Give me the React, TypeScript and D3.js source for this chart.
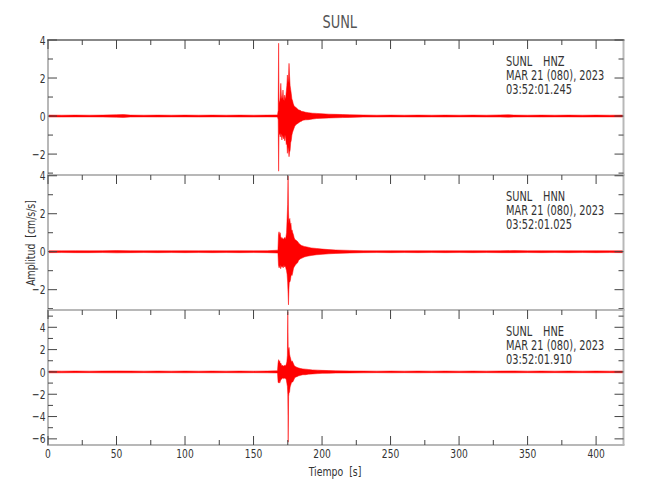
import React from 'react';
import * as d3 from 'd3';

// ---------- data ----------
const timeDomain: [number, number] = [0, 420];
const xTickLabels = [0, 50, 100, 150, 200, 250, 300, 350, 400];
const stationName = 'SUNL';
const channels = ['HNZ', 'HNN', 'HNE'];
const dateLine = 'MAR 21 (080), 2023';
const startTimes = ['03:52:01.245', '03:52:01.025', '03:52:01.910'];
const yDomains: [number, number][] = [[-3.1, 4.0], [-3.07, 4.04], [-6.55, 5.55]];
const yTickLabels = [[-2, 0, 2, 4], [-2, 0, 2, 4], [-6, -4, -2, 0, 2, 4]];

// envelopes: [time s, upper, lower] in cm/s/s
const hnzEnvelope: [number, number, number][] = [
  [0, 0.05, -0.05], [10, 0.045, -0.05], [20, 0.05, -0.045], [30, 0.045, -0.045], [40, 0.05, -0.05],
  [50, 0.07, -0.06], [55, 0.08, -0.07], [60, 0.05, -0.05], [70, 0.045, -0.045], [80, 0.05, -0.05],
  [90, 0.045, -0.045], [100, 0.05, -0.045], [110, 0.045, -0.05], [120, 0.05, -0.045], [130, 0.045, -0.045],
  [140, 0.05, -0.05], [150, 0.045, -0.05], [160, 0.05, -0.045], [167.5, 0.06, -0.05],
  [168.0, 0.3, -0.2], [168.3, 3.83, -2.9], [168.6, 0.8, -1.0], [169.0, 0.7, -0.9], [169.5, 1.0, -1.1],
  [169.9, 1.72, -0.9], [170.3, 1.1, -1.0], [170.7, 0.9, -1.26], [171.1, 1.0, -1.0], [171.5, 1.37, -1.1],
  [171.9, 0.9, -1.2], [172.3, 0.8, -1.0], [172.7, 1.1, -1.3], [173.1, 0.9, -1.0], [173.5, 1.0, -1.2],
  [173.9, 1.3, -1.5], [174.3, 1.6, -1.4], [174.7, 2.16, -1.96], [175.1, 1.7, -1.6], [175.5, 2.0, -1.8],
  [175.9, 2.77, -2.14], [176.3, 2.1, -1.9], [176.7, 1.6, -1.8], [177.1, 1.4, -1.4], [177.5, 1.2, -1.3],
  [178.0, 0.9, -1.0], [178.5, 0.8, -0.85], [179.0, 0.65, -0.75], [179.5, 0.55, -0.65], [180.0, 0.5, -0.55],
  [181, 0.45, -0.45], [182, 0.38, -0.4], [183, 0.32, -0.35], [184, 0.3, -0.3], [185, 0.25, -0.27],
  [186, 0.24, -0.22], [188, 0.2, -0.2], [190, 0.18, -0.19], [193, 0.15, -0.16], [196, 0.14, -0.13],
  [200, 0.12, -0.12], [205, 0.1, -0.1], [210, 0.09, -0.09], [215, 0.08, -0.08], [220, 0.07, -0.07],
  [230, 0.055, -0.05], [240, 0.045, -0.05], [250, 0.05, -0.045], [260, 0.045, -0.045], [270, 0.05, -0.05],
  [280, 0.045, -0.045], [290, 0.05, -0.05], [300, 0.045, -0.045], [310, 0.05, -0.045], [320, 0.045, -0.05],
  [330, 0.06, -0.05], [336, 0.07, -0.06], [340, 0.05, -0.05], [350, 0.045, -0.045], [360, 0.05, -0.05],
  [370, 0.045, -0.045], [380, 0.05, -0.045], [390, 0.045, -0.05], [400, 0.05, -0.045], [410, 0.045, -0.045],
  [420, 0.05, -0.05],
];

const hnnEnvelope: [number, number, number][] = [
  [0, 0.05, -0.05], [10, 0.045, -0.045], [20, 0.05, -0.05], [30, 0.045, -0.05], [40, 0.05, -0.045],
  [50, 0.06, -0.06], [60, 0.05, -0.05], [70, 0.045, -0.045], [80, 0.05, -0.05], [90, 0.045, -0.045],
  [100, 0.05, -0.05], [110, 0.045, -0.045], [120, 0.05, -0.05], [130, 0.045, -0.045], [140, 0.05, -0.05],
  [150, 0.045, -0.045], [160, 0.05, -0.05], [167.8, 0.08, -0.07],
  [168.2, 0.9, -0.7], [168.6, 1.05, -0.85], [169.0, 0.85, -0.8], [169.4, 1.0, -0.7], [169.8, 0.8, -0.9],
  [170.2, 0.7, -0.8], [170.7, 0.75, -0.75], [171.2, 0.7, -0.8], [171.7, 0.65, -0.85], [172.2, 0.7, -0.7],
  [172.7, 0.75, -0.8], [173.2, 0.65, -0.75], [173.7, 0.8, -0.9], [174.1, 1.0, -1.0], [174.5, 1.75, -1.2],
  [174.9, 2.5, -1.6], [175.2, 4.0, -2.2], [175.5, 2.2, -2.8], [175.8, 1.5, -2.0], [176.1, 1.7, -1.6],
  [176.5, 1.75, -1.6], [176.9, 1.4, -1.5], [177.3, 1.5, -1.3], [177.7, 1.1, -1.2], [178.1, 1.15, -1.25],
  [178.6, 1.0, -1.1], [179.1, 0.9, -0.9], [179.6, 0.75, -0.8], [180.1, 0.65, -0.75], [181, 0.6, -0.65],
  [182, 0.55, -0.6], [183, 0.45, -0.45], [184, 0.38, -0.38], [185, 0.33, -0.35], [187, 0.28, -0.28],
  [189, 0.25, -0.24], [192, 0.2, -0.2], [196, 0.17, -0.16], [200, 0.14, -0.14], [205, 0.11, -0.11],
  [210, 0.09, -0.09], [220, 0.07, -0.07],
  [230, 0.05, -0.05], [240, 0.045, -0.045], [250, 0.05, -0.05], [260, 0.045, -0.045], [270, 0.05, -0.05],
  [280, 0.045, -0.045], [290, 0.05, -0.05], [300, 0.045, -0.045], [310, 0.05, -0.05], [320, 0.045, -0.045],
  [330, 0.05, -0.05], [340, 0.06, -0.05], [350, 0.045, -0.045], [360, 0.05, -0.05], [370, 0.045, -0.045],
  [380, 0.05, -0.05], [390, 0.045, -0.045], [400, 0.05, -0.05], [410, 0.045, -0.045], [420, 0.05, -0.05],
];

const hneEnvelope: [number, number, number][] = [
  [0, 0.08, -0.08], [10, 0.07, -0.08], [20, 0.08, -0.07], [30, 0.07, -0.07], [40, 0.08, -0.08],
  [50, 0.09, -0.08], [60, 0.08, -0.08], [70, 0.07, -0.07], [80, 0.08, -0.08], [90, 0.07, -0.07],
  [100, 0.08, -0.08], [110, 0.07, -0.07], [120, 0.08, -0.08], [130, 0.07, -0.07], [140, 0.08, -0.08],
  [150, 0.07, -0.07], [160, 0.08, -0.08], [167.5, 0.1, -0.09],
  [167.9, 0.8, -0.9], [168.3, 1.1, -1.0], [168.7, 0.9, -0.8], [169.1, 1.0, -1.0], [169.5, 0.7, -0.85],
  [169.9, 0.8, -0.7], [170.4, 0.6, -0.65], [170.9, 0.55, -0.6], [171.4, 0.6, -0.55], [171.9, 0.5, -0.6],
  [172.4, 0.55, -0.55], [172.9, 0.6, -0.6], [173.4, 0.55, -0.6], [173.9, 0.7, -0.7], [174.3, 0.9, -1.0],
  [174.7, 1.5, -1.3], [175.0, 5.4, -2.0], [175.3, 2.2, -6.3], [175.6, 1.9, -2.2], [175.9, 2.2, -1.9],
  [176.3, 1.6, -1.8], [176.7, 1.35, -1.35], [177.1, 1.2, -1.2], [177.6, 0.9, -1.0], [178.1, 1.0, -0.9],
  [178.6, 0.9, -0.9], [179.1, 0.75, -0.8], [179.6, 0.6, -0.65], [180.2, 0.5, -0.5], [181, 0.45, -0.45],
  [182, 0.4, -0.4], [183, 0.35, -0.35], [184.5, 0.3, -0.3], [186, 0.27, -0.25], [188, 0.25, -0.25],
  [190, 0.22, -0.2], [193, 0.18, -0.18], [197, 0.16, -0.15], [200, 0.14, -0.13], [205, 0.12, -0.12],
  [210, 0.1, -0.1], [220, 0.09, -0.09],
  [230, 0.08, -0.08], [240, 0.07, -0.07], [250, 0.08, -0.08], [260, 0.07, -0.07], [270, 0.08, -0.08],
  [280, 0.07, -0.07], [290, 0.08, -0.08], [300, 0.07, -0.07], [310, 0.08, -0.08], [320, 0.07, -0.07],
  [330, 0.08, -0.08], [340, 0.09, -0.08], [350, 0.07, -0.07], [360, 0.08, -0.08], [370, 0.07, -0.07],
  [380, 0.08, -0.08], [390, 0.07, -0.07], [400, 0.08, -0.08], [410, 0.07, -0.07], [420, 0.08, -0.08],
];

const envelopes = [hnzEnvelope, hnnEnvelope, hneEnvelope];

// ---------- layout ----------
const W = 650;
const H = 500;
const plotLeft = 48;
const plotRight = 623.5;
const panelTops = [40, 175, 310];
const panelHeight = 135;
const FONT = "'DejaVu Sans', sans-serif";
const TEXT = '#333';
const FRAME = '#b8b8b8';
const TICK = '#444';

type TProps = {
  x: number; y: number; size: number; anchor?: string; sx?: number; rotate?: number;
  fill?: string; children: React.ReactNode;
};
function T({ x, y, size, anchor = 'start', sx = 0.8, rotate = 0, fill = TEXT, children }: TProps) {
  return (
    <text transform={`translate(${x},${y}) rotate(${rotate}) scale(${sx},1)`} textAnchor={anchor}
      fontSize={size} fill={fill} fontStretch="condensed" xmlSpace="preserve">{children}</text>
  );
}

export default function App() {
  const x = d3.scaleLinear().domain(timeDomain).range([plotLeft, plotRight]);
  const xMinor = d3.range(timeDomain[0], timeDomain[1] + 0.001, 25);
  const bottom = panelTops[2] + panelHeight;

  return (
    <svg width={W} height={H} style={{ position: 'absolute', left: 0, top: 0, background: '#fff' }}
      fontFamily={FONT}>
      <rect x={0} y={0} width={W} height={H} fill="#fff" />
      <T x={(plotLeft + plotRight) / 2 + 4} y={28} size={18} anchor="middle" fill="#555">{stationName}</T>

      {channels.map((ch, i) => {
        const top = panelTops[i];
        const y = d3.scaleLinear().domain(yDomains[i]).range([top + panelHeight, top]);
        const area = d3.area<[number, number, number]>()
          .x(d => x(d[0]))
          .y0(d => y(d[2]))
          .y1(d => y(d[1]));
        const [lo, hi] = yDomains[i];
        const yMinor = d3.range(Math.ceil(lo), Math.floor(hi) + 0.001, 1);
        const majors = yTickLabels[i];
        return (
          <g key={ch}>
            <clipPath id={`clip${i}`}>
              <rect x={plotLeft} y={top} width={plotRight - plotLeft} height={panelHeight} />
            </clipPath>
            <path d={area(envelopes[i]) || ''} fill="#ff0000" stroke="#ff0000" strokeWidth={0.5}
              clipPath={`url(#clip${i})`} />
            {/* frame */}
            <line x1={plotLeft} x2={plotLeft} y1={top} y2={top + panelHeight} stroke={FRAME} strokeWidth={2} />
            <line x1={plotRight} x2={plotRight} y1={top} y2={top + panelHeight} stroke={FRAME} strokeWidth={2} />
            <line x1={plotLeft - 1} x2={plotRight + 1} y1={top} y2={top} stroke={i === 0 ? '#888' : FRAME} strokeWidth={2} />
            {/* y ticks left & right */}
            {yMinor.map(v => {
              const len = majors.includes(v) ? 9 : 5;
              return (
                <g key={v}>
                  <line x1={plotLeft} x2={plotLeft + len} y1={y(v)} y2={y(v)} stroke={TICK} strokeWidth={1} />
                  <line x1={plotRight} x2={plotRight - len} y1={y(v)} y2={y(v)} stroke={TICK} strokeWidth={1} />
                </g>
              );
            })}
            {majors.map(v => (
              <T key={v} x={45.5} y={y(v) + 4.6} size={13} anchor="end" sx={0.78}>
                {v < 0 ? '\u2212' + Math.abs(v) : String(v)}
              </T>
            ))}
            {/* x ticks along top edge */}
            {xMinor.map(t => {
              const len = t % 50 === 0 ? 9 : 5;
              return <line key={t} x1={x(t)} x2={x(t)} y1={top} y2={top + len} stroke={TICK} strokeWidth={1} />;
            })}
            <T x={506} y={top + 26} size={14} sx={0.78}>{stationName}</T>
            <T x={543} y={top + 26} size={14} sx={0.78}>{ch}</T>
            <T x={506} y={top + 40} size={14} sx={0.78}>{dateLine}</T>
            <T x={506} y={top + 54} size={14} sx={0.78}>{startTimes[i]}</T>
          </g>
        );
      })}

      {/* bottom axis */}
      <line x1={plotLeft - 1} x2={plotRight + 1} y1={bottom} y2={bottom} stroke={FRAME} strokeWidth={2} />
      {xMinor.map(t => {
        const len = t % 50 === 0 ? 9 : 5;
        return <line key={t} x1={x(t)} x2={x(t)} y1={bottom} y2={bottom - len} stroke={TICK} strokeWidth={1} />;
      })}
      {xTickLabels.map(t => (
        <T key={t} x={x(t)} y={458} size={13} anchor="middle" sx={0.78}>{t}</T>
      ))}
      <T x={335} y={476} size={13} anchor="middle" sx={0.8}>{'Tiempo  [s]'}</T>
      <T x={34.5} y={243} size={13} anchor="middle" sx={0.8} rotate={-90}>{'Amplitud  [cm/s/s]'}</T>
    </svg>
  );
}
